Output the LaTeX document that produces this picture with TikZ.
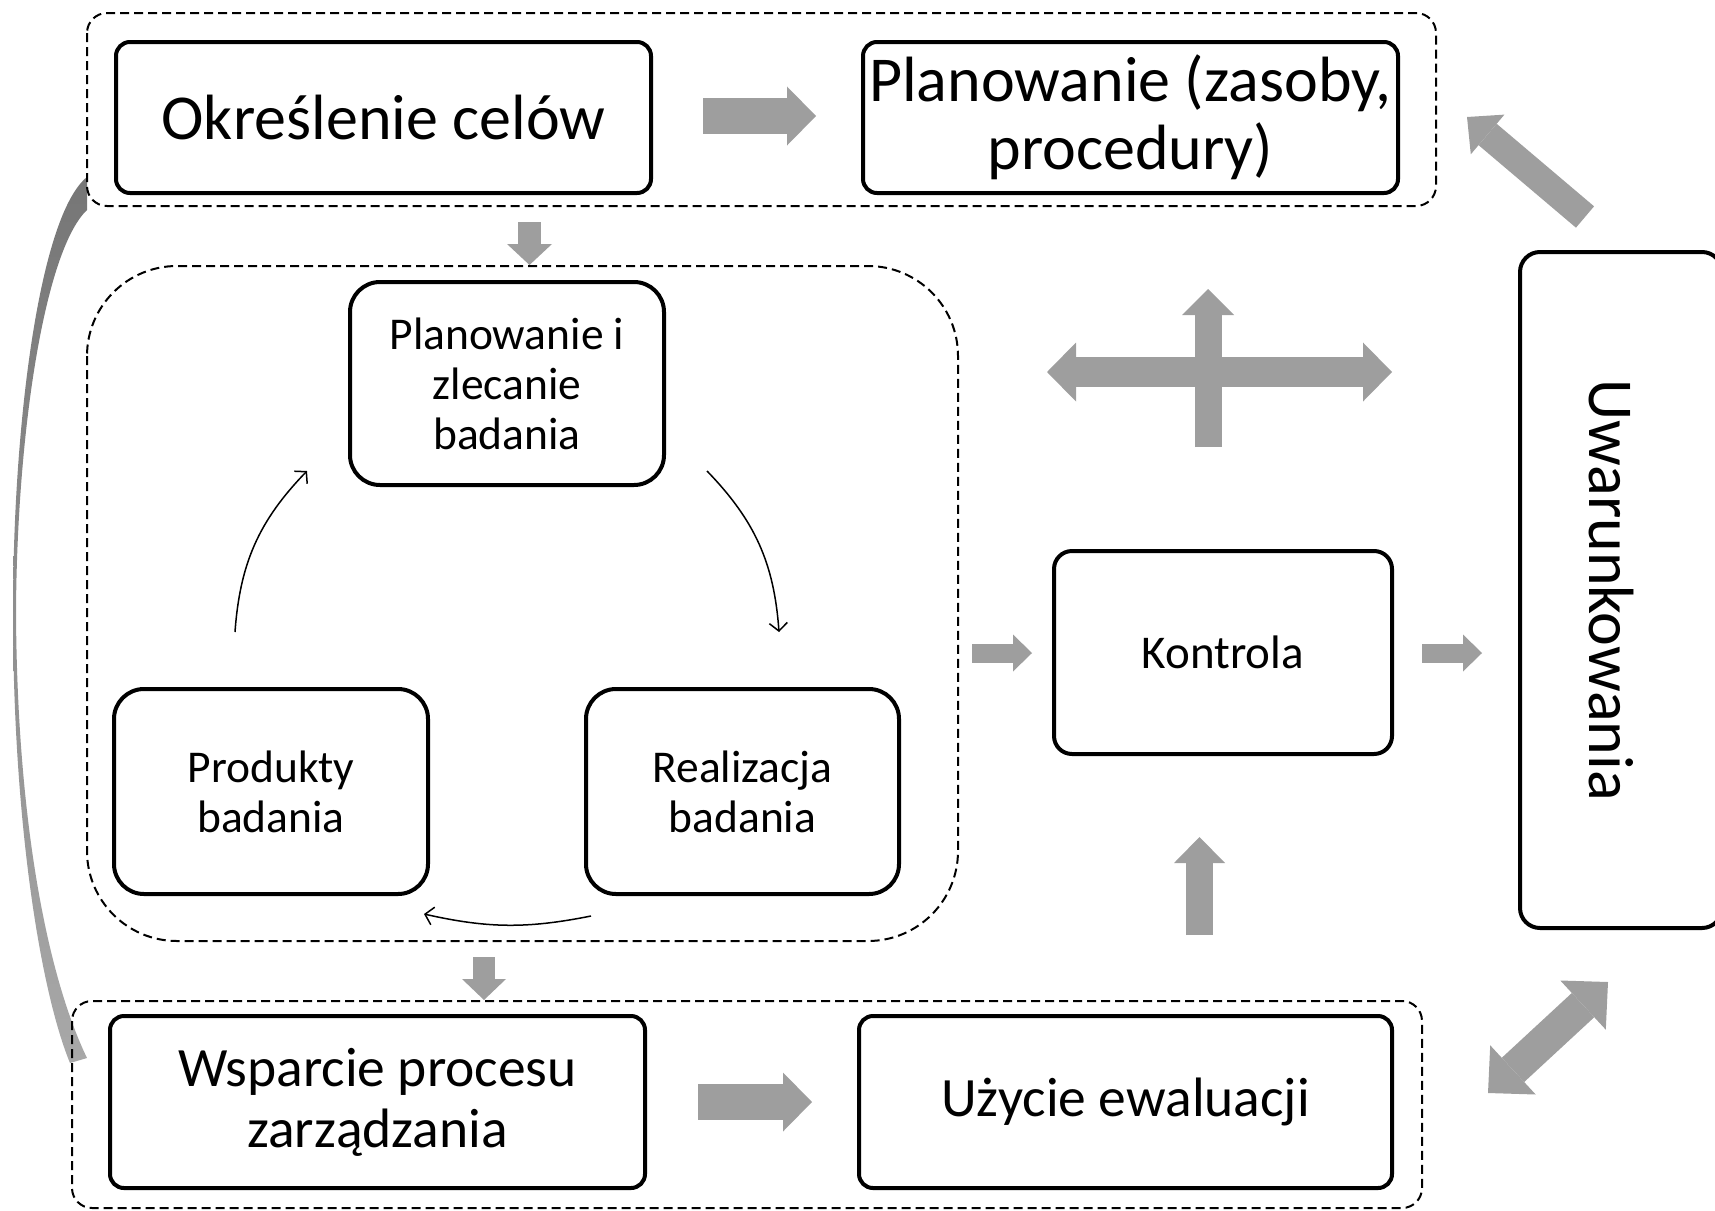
\documentclass[tikz,border=0pt]{standalone}
\usepackage{fontspec}
\setmainfont{Carlito}
\usetikzlibrary{arrows.meta,calc}

\definecolor{arrgray}{RGB}{158,158,158}
\definecolor{curvetop}{RGB}{118,118,118}
\definecolor{curvebot}{RGB}{168,168,168}

\newcommand{\fbig}{\fontsize{64}{68}\selectfont}
\newcommand{\fmid}{\fontsize{55.5}{61}\selectfont}
\newcommand{\fsmall}{\fontsize{45.5}{50}\selectfont}

\tikzset{
  procbox/.style={draw, line width=4pt, rounded corners=14pt, align=center, inner sep=0pt},
  grp/.style={draw, line width=2pt, dash pattern=on 9pt off 5pt},
  blk/.style={draw=arrgray, line width=#1},
  cyclearrow/.style={line width=1.5pt, -{Straight Barb[length=8pt,width=18pt]}},
}

\begin{document}
\begin{tikzpicture}[x=1pt,y=-1pt]
\useasboundingbox (0,0) rectangle (1715,1210);
\clip (0,0) rectangle (1715,1210);

% curved link on the left
\shade[top color=curvetop, bottom color=curvebot] (87,177) .. controls (40,215) and (13,420) .. (13,612) .. controls (13,820) and (40,990) .. (70,1063) -- (87,1058) .. controls (47,975) and (17,820) .. (16,612) .. controls (17,430) and (45,250) .. (87,210) -- cycle;

% groups
\draw[grp, rounded corners=20pt] (87,13) rectangle (1436,206);
\draw[grp, rounded corners=90pt] (87,266) rectangle (958,941);
\draw[grp, rounded corners=20pt] (72,1001) rectangle (1422,1208);

% boxes
\node[procbox, minimum width=535pt, minimum height=151pt, font=\fbig] (okr) at (383.5,117.5) {Określenie celów};
\node[procbox, minimum width=535pt, minimum height=151pt, font=\fbig] (plan) at (1130.5,117.5) {Planowanie (zasoby,\\procedury)};
\node[procbox, rounded corners=30pt, minimum width=314pt, minimum height=203pt, font=\fsmall] (pzb) at (507,383.5) {Planowanie i\\zlecanie\\badania};
\node[procbox, rounded corners=30pt, minimum width=314pt, minimum height=205pt, font=\fsmall] (prod) at (271,791.5) {Produkty\\badania};
\node[procbox, rounded corners=30pt, minimum width=313pt, minimum height=205pt, font=\fsmall] (real) at (742.5,791.5) {Realizacja\\badania};
\node[procbox, rounded corners=18pt, minimum width=338pt, minimum height=203pt, font=\fontsize{47}{50}\selectfont] (kontr) at (1223,652.5) {Kontrola};
\node[procbox, minimum width=535pt, minimum height=172pt, font=\fmid] (wsp) at (377.5,1102) {Wsparcie procesu\\zarządzania};
\node[procbox, minimum width=533pt, minimum height=172pt, font=\fmid] (uzy) at (1125.5,1102) {Użycie ewaluacji};
\node[procbox, rounded corners=20pt, minimum width=202pt, minimum height=676pt] (uwar) at (1621,590) {};
\node[rotate=-90, font=\fbig] (uwartxt) at (1611,590) {Uwarunkowania};

% cycle inside the middle group
\coordinate (c1a) at (235,632);
\coordinate (c1b) at (307,471);
\coordinate (c2a) at (707,471);
\coordinate (c2b) at (779,632);
\coordinate (c3a) at (591,916);
\coordinate (c3b) at (424,914);
\draw[cyclearrow] (c1a) to[bend left=20] (c1b);
\draw[cyclearrow] (c2a) to[bend left=20] (c2b);
\draw[cyclearrow] (c3a) to[bend left=12] (c3b);

% block arrows
\coordinate (a1) at (703,116);   \coordinate (b1) at (816,116);
\coordinate (a2) at (698,1102);  \coordinate (b2) at (812,1102);
\coordinate (a3) at (529.5,222); \coordinate (b3) at (529.5,265);
\coordinate (a4) at (484,957);   \coordinate (b4) at (484,1000);
\coordinate (a5) at (972,653);   \coordinate (b5) at (1032,653);
\coordinate (a6) at (1422,653);  \coordinate (b6) at (1482,653);
\coordinate (a7) at (1199.5,935); \coordinate (b7) at (1199.5,837);
\coordinate (a8) at (1047,372);  \coordinate (b8) at (1392,372);
\coordinate (a9) at (1208,447);  \coordinate (b9) at (1208,289);
\coordinate (a10) at (1585,217); \coordinate (b10) at (1467,117);
\coordinate (a11) at (1488,1093); \coordinate (b11) at (1608,982);

\draw[blk=36pt, -{Triangle[length=29pt,width=59pt,line width=0pt]}] (a1) -- (b1);
\draw[blk=36pt, -{Triangle[length=29pt,width=59pt,line width=0pt]}] (a2) -- (b2);
\draw[blk=23pt, -{Triangle[length=21pt,width=45pt,line width=0pt]}] (a3) -- (b3);
\draw[blk=22pt, -{Triangle[length=21pt,width=44pt,line width=0pt]}] (a4) -- (b4);
\draw[blk=19pt, -{Triangle[length=19pt,width=37pt,line width=0pt]}] (a5) -- (b5);
\draw[blk=19pt, -{Triangle[length=19pt,width=37pt,line width=0pt]}] (a6) -- (b6);
\draw[blk=27pt, -{Triangle[length=26pt,width=51pt,line width=0pt]}] (a7) -- (b7);
\draw[blk=30pt, {Triangle[length=29pt,width=59pt,line width=0pt]}-{Triangle[length=29pt,width=59pt,line width=0pt]}] (a8) -- (b8);
\draw[blk=27pt, -{Triangle[length=26pt,width=52pt,line width=0pt]}] (a9) -- (b9);
\draw[blk=28pt, -{Triangle[length=27pt,width=52pt,line width=0pt]}] (a10) -- (b10);
\draw[blk=33pt, {Triangle[length=34pt,width=67pt,line width=0pt]}-{Triangle[length=34pt,width=67pt,line width=0pt]}] (a11) -- (b11);

\end{tikzpicture}
\end{document}
